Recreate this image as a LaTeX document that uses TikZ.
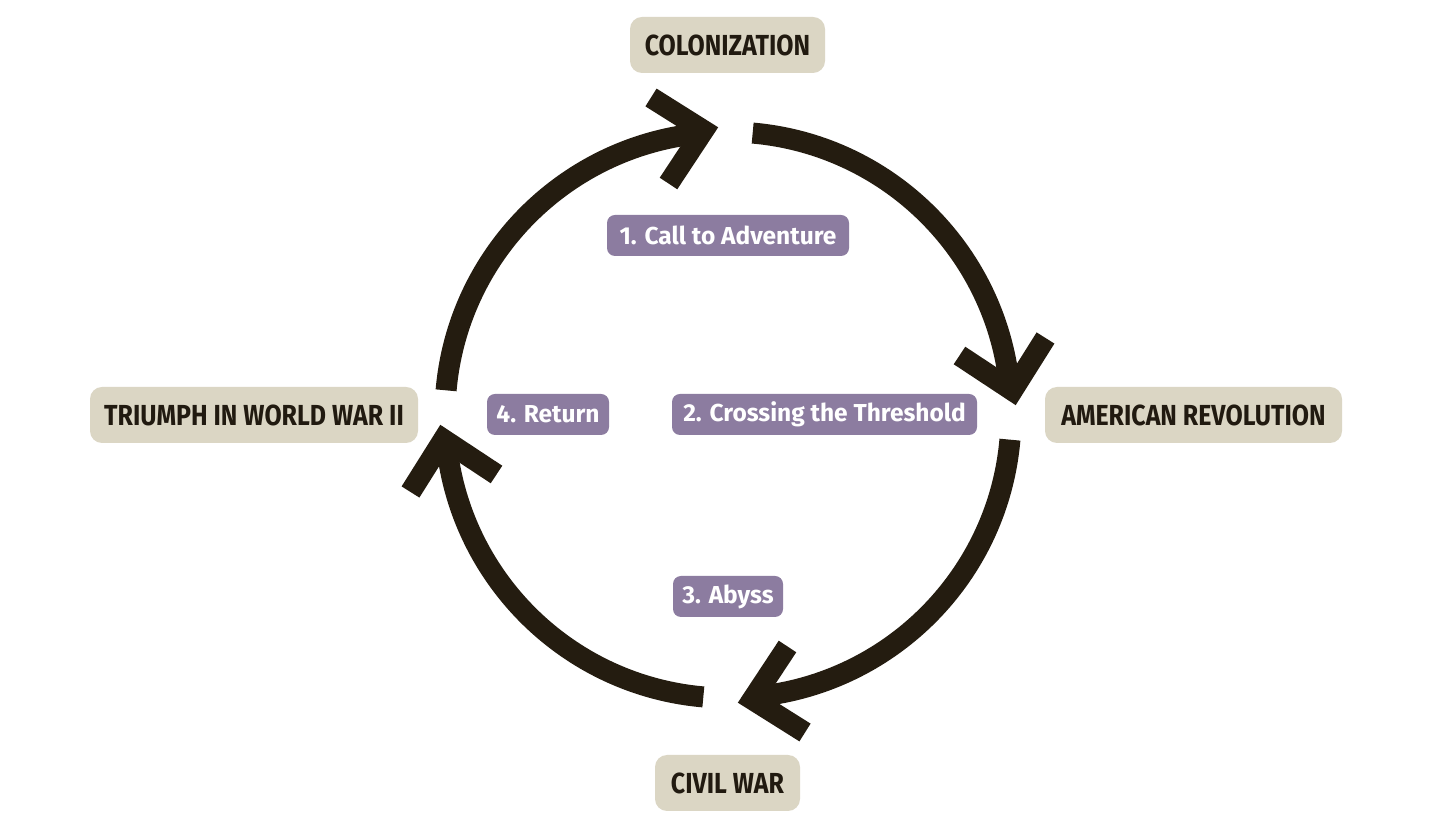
\documentclass[tikz,border=0pt]{standalone}
\usepackage{fontspec}
\setmainfont{Fira Sans}
\newfontfamily\headfont[FakeStretch=0.86]{Fira Sans}
\definecolor{arrowc}{HTML}{241C10}
\definecolor{beige}{HTML}{DBD6C4}
\definecolor{lilac}{HTML}{8C7CA0}
\definecolor{darktext}{HTML}{211A10}
\begin{document}
\begin{tikzpicture}[x=1pt,y=1pt,
  era/.style={fill=beige, rounded corners=12pt, minimum width=#1, minimum height=56pt, inner sep=0pt,
    font=\headfont\bfseries\fontsize{29}{29}\selectfont, text=darktext},
  stage/.style={fill=lilac, rounded corners=8pt, minimum width=#1, minimum height=41pt, inner sep=0pt,
    font=\bfseries\fontsize{24.5}{24.5}\selectfont, text=white},
  shaft/.style={draw=arrowc, line width=21pt},
  head/.style={draw=arrowc, line width=21pt, line join=miter}]
\useasboundingbox (0,0) rectangle (1456,832);
\fill[white] (0,0) rectangle (1456,832);
\coordinate (c) at (728,417);
% cycle arcs with chevron heads
\foreach \r in {0,-90,-180,-270} {
  \begin{scope}[shift={(c)}, rotate=\r]
    \draw[shaft] (85:283) arc[start angle=85, end angle=5.5, radius=283];
    \draw[head] (231.5,59.5) -- (284.5,24.5) -- (317.5,77);
  \end{scope}
}
% era labels
\node[era=195pt] (colon) at (727.5,787) {COLONIZATION};
\node[era=297pt] (amrev) at (1193.5,417) {AMERICAN REVOLUTION};
\node[era=145pt] (civil) at (727.5,49) {CIVIL WAR};
\node[era=328pt] (ww2) at (254,417) {TRIUMPH IN WORLD WAR II};
% stage labels
\node[stage=242pt] (s1) at (728,596.5) {1. Call to Adventure};
\node[stage=305pt] (s2) at (824.5,417.5) {2. Crossing the Threshold};
\node[stage=110pt] (s3) at (728,235.5) {3. Abyss};
\node[stage=122pt] (s4) at (548,417.5) {4. Return};
\end{tikzpicture}
\end{document}
